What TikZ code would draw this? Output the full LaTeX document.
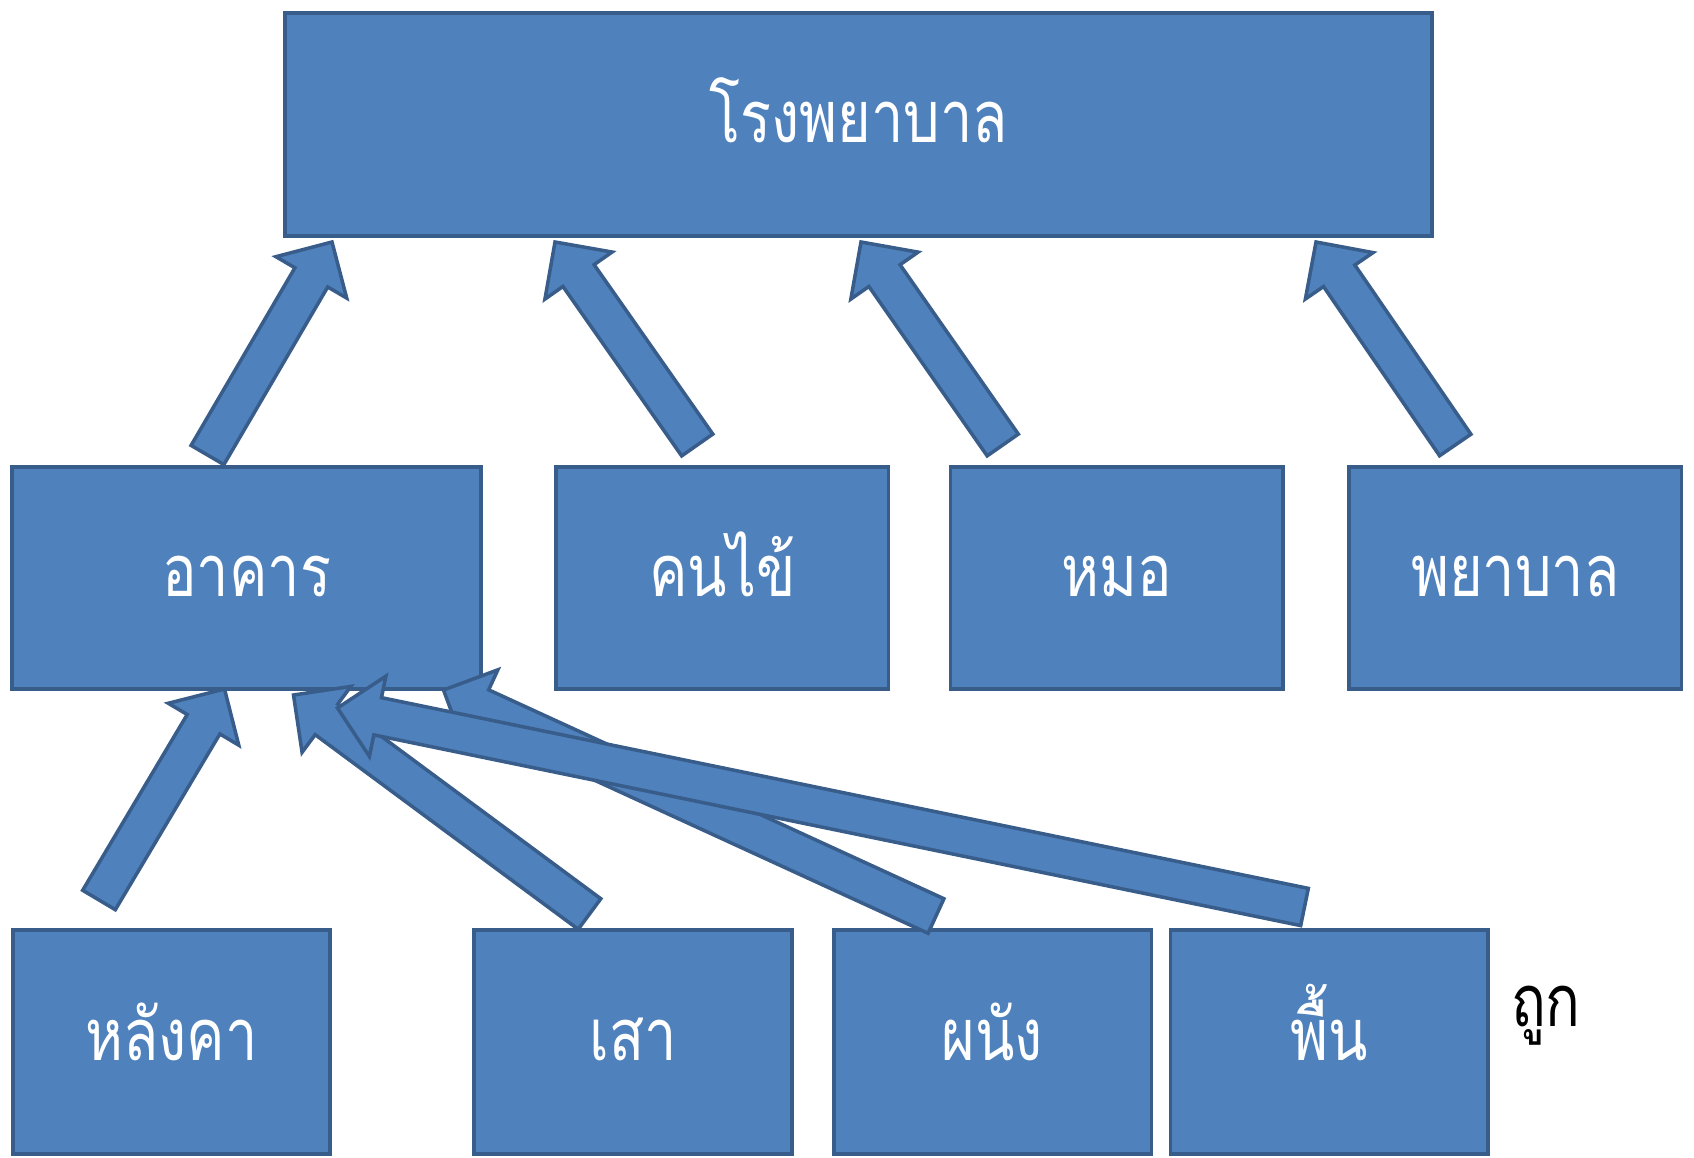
\documentclass[tikz,border=0pt]{standalone}
\usepackage{fontspec}
\newfontfamily\thaifont[Script=Thai, FakeStretch=0.8]{Loma}
\usepackage{tikz}
\usetikzlibrary{positioning, calc}

\definecolor{boxblue}{HTML}{4F81BD}
\definecolor{edgeblue}{HTML}{385D8A}

% fat block arrow from tail #1 to tip #2
\newcommand{\fatarrow}[2]{%
  \coordinate (neck) at ($(#2)!0.41cm!(#1)$);
  \draw[bigarrow] ($(#1)!0.19cm!90:(#2)$) -- ($(neck)!0.19cm!90:(#2)$)
    -- ($(neck)!0.41cm!90:(#2)$) -- (#2)
    -- ($(neck)!0.41cm!-90:(#2)$) -- ($(neck)!0.19cm!-90:(#2)$)
    -- ($(#1)!0.19cm!-90:(#2)$) -- cycle;
}

\begin{document}
\begin{tikzpicture}[
    % blue boxes with white text
    box/.style={
        rectangle, draw=edgeblue, fill=boxblue, line width=1pt,
        minimum height=2.22cm, inner sep=0pt, outer sep=0pt, text=white,
        text height=0.47cm, text depth=0.10cm,
        font=\thaifont\fontsize{20.5}{24}\selectfont
    },
    topbox/.style={box, minimum width=11.47cm, minimum height=2.23cm},
    midbox/.style={box, minimum width=3.325cm},
    lowbox/.style={box, minimum width=3.175cm, minimum height=2.24cm},
    bigarrow/.style={draw=edgeblue, fill=boxblue, line width=1pt, line join=miter},
    note/.style={font=\thaifont\fontsize{20.5}{24}\selectfont, text=black},
]
\useasboundingbox (0,0) rectangle (16.94,11.57);

% Top level
\node[topbox] (hospital) at (8.585,10.325) {โรงพยาบาล};

% Middle row
\node[box, minimum width=4.69cm] (building) at (2.465,5.79) {อาคาร};
\node[midbox, right=0.75cm of building] (patient) {คนไข้};
\node[midbox, right=0.62cm of patient] (doctor) {หมอ};
\node[midbox, right=0.66cm of doctor] (nurse) {พยาบาล};

% Bottom row
\node[lowbox] (roof) at (1.715,1.15) {หลังคา};
\node[lowbox, right=1.44cm of roof] (pillar) {เสา};
\node[lowbox, right=0.42cm of pillar] (wall) {ผนัง};
\node[lowbox, right=0.19cm of wall] (floor) {พื้น};

\node[note] (mark) at (15.46,1.41) {ถูก};

% Arrow ends
\coordinate (t1) at ([shift={(-0.39,0.12)}]building.north);
\coordinate (t2) at ([shift={(-0.25,0.22)}]patient.north);
\coordinate (t3) at ([shift={(-1.14,0.22)}]doctor.north);
\coordinate (t4) at ([shift={(-0.60,0.22)}]nurse.north);
\coordinate (h1) at ([shift={(-5.265,-0.06)}]hospital.south);
\coordinate (h2) at ([shift={(-3.035,-0.06)}]hospital.south);
\coordinate (h3) at ([shift={(0.025,-0.06)}]hospital.south);
\coordinate (h4) at ([shift={(4.575,-0.06)}]hospital.south);

\coordinate (t5) at ([shift={(-0.725,0.30)}]roof.north);
\coordinate (t6) at ([shift={(-0.435,0.16)}]pillar.north);
\coordinate (t7) at ([shift={(-0.565,0.14)}]wall.north);
\coordinate (t8) at ([shift={(-0.245,0.23)}]floor.north);
\coordinate (h5) at ([shift={(-0.22,0)}]building.south);
\coordinate (h6) at ([shift={(0.47,-0.06)}]building.south);
\coordinate (h7) at ([shift={(1.97,-0.01)}]building.south);
\coordinate (h8) at ([shift={(0.91,-0.19)}]building.south);

% Arrows up to the hospital
\fatarrow{t1}{h1}
\fatarrow{t2}{h2}
\fatarrow{t3}{h3}
\fatarrow{t4}{h4}

% Arrows up to the building
\fatarrow{t5}{h5}
\fatarrow{t6}{h6}
\fatarrow{t7}{h7}
\fatarrow{t8}{h8}

\end{tikzpicture}
\end{document}
